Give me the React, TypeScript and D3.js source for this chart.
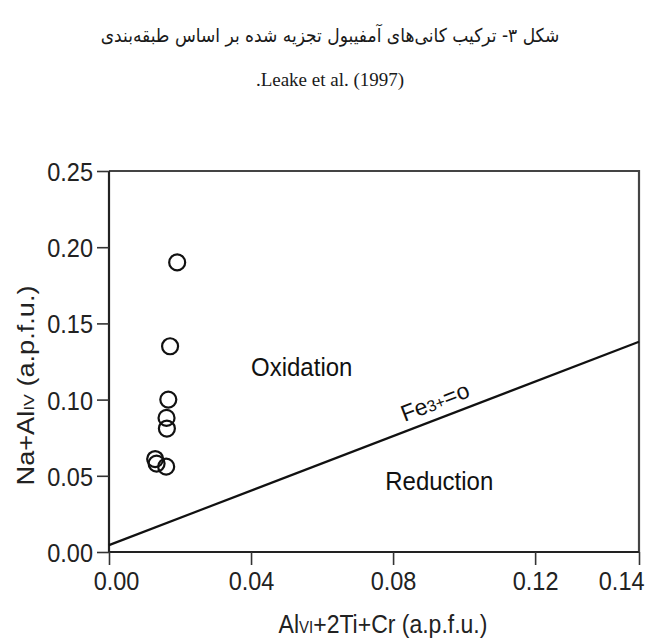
import React, { useEffect, useRef } from "react";
import * as d3 from "d3";

const titleLine1 = "شکل ۳- ترکیب کانی‌های آمفیبول تجزیه شده بر اساس طبقه‌بندی";
const titleLine2 = ".Leake et al. (1997)";

const xTicks = [0, 0.04, 0.08, 0.12, 0.14];
const xTickLabels = ["0.00", "0.04", "0.08", "0.12", "0.14"];
const yTicks = [0, 0.05, 0.1, 0.15, 0.2, 0.25];
const yTickLabels = ["0.00", "0.05", "0.10", "0.15", "0.20", "0.25"];

const sampleX = [0.0192, 0.0172, 0.0167, 0.0162, 0.0163, 0.013, 0.0134, 0.0161];
const sampleY = [0.19, 0.135, 0.1, 0.088, 0.081, 0.061, 0.058, 0.056];

const boundaryX = [0, 0.14];
const boundaryY = [0.0045, 0.138];

const W = 646;
const H = 639;
const M = { left: 109, right: 7, top: 171, bottom: 87 };
const STRETCH = 1.13;

export default function App() {
  const ref = useRef<SVGSVGElement>(null);

  useEffect(() => {
    document.body.style.margin = "0";
    const svg = d3.select(ref.current);
    svg.selectAll("*").remove();

    const x0 = M.left;
    const x1 = W - M.right;
    const y0 = H - M.bottom;
    const y1 = M.top;
    // the original axis is not uniform: its last interval is stretched to the frame
    const x = d3
      .scaleLinear()
      .domain([0, 0.12, 0.14])
      .range([x0, x0 + (x1 - x0) * 0.804, x1]);
    const y = d3.scaleLinear().domain([0, 0.25]).range([y0, y1]);

    const sans = "'Liberation Sans', Arial, Helvetica, sans-serif";
    const tickFont = 23.5;

    // title
    svg
      .append("text")
      .attr("transform", "translate(330,42) scale(0.9,1)")
      .attr("text-anchor", "middle")
      .attr("direction", "rtl")
      .attr("font-family", "'DejaVu Sans', 'Noto Sans', sans-serif")
      .attr("font-size", 19)
      .attr("fill", "#1a1a1a")
      .text(titleLine1);
    svg
      .append("text")
      .attr("x", 330)
      .attr("y", 86)
      .attr("text-anchor", "middle")
      .attr("font-family", "'Liberation Serif', 'Times New Roman', serif")
      .attr("font-size", 19)
      .attr("fill", "#1a1a1a")
      .text(titleLine2);

    // frame top / right
    svg
      .append("path")
      .attr("d", `M${x0},${y1}H${x1}V${y0}`)
      .attr("fill", "none")
      .attr("stroke", "#444")
      .attr("stroke-width", 2.2);

    // axes
    const gx = svg.append("g").attr("transform", `translate(0,${y0})`);
    gx.call(
      d3
        .axisBottom(x)
        .tickValues(xTicks)
        .tickSize(13)
        .tickPadding(6)
        .tickFormat((d, i) => xTickLabels[i])
    );
    const gy = svg.append("g").attr("transform", `translate(${x0},0)`);
    gy.call(
      d3
        .axisLeft(y)
        .tickValues(yTicks)
        .tickSize(12)
        .tickPadding(4)
        .tickFormat((d, i) => yTickLabels[i])
    );
    [gx, gy].forEach((g) => {
      g.select(".domain").attr("stroke", "#222").attr("stroke-width", 2.2);
      g.selectAll(".tick line").attr("stroke", "#333").attr("stroke-width", 1.6);
      g.selectAll(".tick text")
        .attr("font-family", sans)
        .attr("font-size", tickFont)
        .attr("fill", "#222");
    });
    gx.select(".domain").attr("d", `M${x0},0H${x1}`);
    gy.select(".domain").attr("d", `M0,${y0}V${y1}`);

    const nX = xTicks.length;
    gx.selectAll<SVGTextElement, number>(".tick text")
      .attr("y", 0)
      .attr("dy", null)
      .attr("x", (d, i) => (i === 0 ? 7 : i === nX - 1 ? 5 : 0))
      .attr("text-anchor", (d, i) => (i === nX - 1 ? "end" : "middle"))
      .attr(
        "transform",
        `translate(0,${19 + 0.716 * tickFont * STRETCH}) scale(1,${STRETCH})`
      );
    gy.selectAll<SVGTextElement, number>(".tick text")
      .attr("x", 0)
      .attr("dy", null)
      .attr(
        "transform",
        `translate(-16,${0.358 * tickFont * STRETCH}) scale(1,${STRETCH})`
      );

    // axis titles
    const yt = svg
      .append("text")
      .attr(
        "transform",
        `translate(34,${(y0 + y1) / 2 + 24}) rotate(-90) scale(1.18,1)`
      )
      .attr("text-anchor", "middle")
      .attr("font-family", sans)
      .attr("font-size", 23)
      .attr("fill", "#222");
    yt.append("tspan").text("Na+Al");
    yt.append("tspan").attr("font-size", 15).text("IV");
    yt.append("tspan").text(" (a.p.f.u.)");

    const xt = svg
      .append("text")
      .attr(
        "transform",
        `translate(${(x0 + x1) / 2 + 9},633) scale(1,${STRETCH})`
      )
      .attr("text-anchor", "middle")
      .attr("font-family", sans)
      .attr("font-size", 23)
      .attr("fill", "#222");
    xt.append("tspan").text("Al");
    xt.append("tspan").attr("font-size", 15).text("VI");
    xt.append("tspan").text("+2Ti+Cr (a.p.f.u.)");

    // boundary line
    const line = d3
      .line<number>()
      .x((d, i) => x(boundaryX[i]))
      .y((d, i) => y(boundaryY[i]));
    svg
      .append("path")
      .datum(boundaryX)
      .attr("d", line)
      .attr("fill", "none")
      .attr("stroke", "#111")
      .attr("stroke-width", 2.2);

    const px0 = x(boundaryX[0]);
    const py0 = y(boundaryY[0]);
    const px1 = x(boundaryX[1]);
    const py1 = y(boundaryY[1]);
    const ang = (Math.atan2(py1 - py0, px1 - px0) * 180) / Math.PI;
    const lx = x(0.0935);
    const ly = py0 + ((lx - px0) * (py1 - py0)) / (px1 - px0);
    const fe = svg
      .append("text")
      .attr("transform", `translate(${lx},${ly}) rotate(${ang}) translate(0,-9)`)
      .attr("text-anchor", "middle")
      .attr("font-family", sans)
      .attr("font-size", 23)
      .attr("fill", "#111");
    fe.append("tspan").text("Fe");
    fe.append("tspan").attr("font-size", 16).text("3+");
    fe.append("tspan").text("=o");

    // region labels
    const region = (label: string, vx: number, vy: number) =>
      svg
        .append("text")
        .attr("transform", `translate(${x(vx)},${y(vy)}) scale(1,1.08)`)
        .attr("font-family", sans)
        .attr("font-size", 24)
        .attr("fill", "#111")
        .text(label);
    region("Oxidation", 0.04, 0.1155);
    region("Reduction", 0.0778, 0.0405);

    // samples
    svg
      .append("g")
      .selectAll("circle")
      .data(sampleX)
      .join("circle")
      .attr("cx", (d) => x(d))
      .attr("cy", (d, i) => y(sampleY[i]))
      .attr("r", 8)
      .attr("fill", "none")
      .attr("stroke", "#111")
      .attr("stroke-width", 2.2);
  }, []);

  return <svg ref={ref} width={W} height={H} style={{ display: "block" }} />;
}
